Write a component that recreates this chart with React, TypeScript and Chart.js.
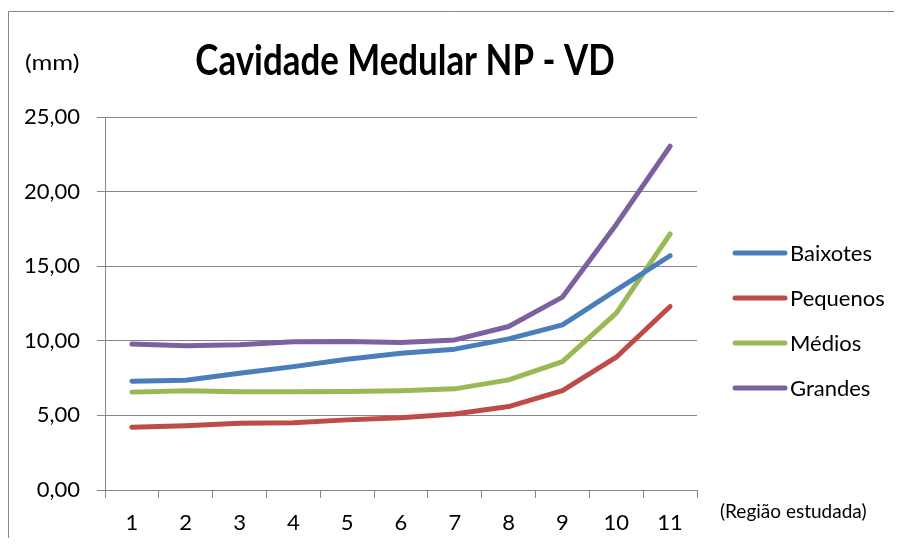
import { useEffect, useRef } from "react";
import { Chart, registerables } from "chart.js";
Chart.register(...registerables);

const categories = ["1", "2", "3", "4", "5", "6", "7", "8", "9", "10", "11"];
const baixotes = [7.29, 7.36, 7.83, 8.27, 8.77, 9.17, 9.44, 10.13, 11.07, 13.4, 15.7];
const pequenos = [4.2, 4.3, 4.47, 4.51, 4.7, 4.85, 5.1, 5.59, 6.66, 8.9, 12.3];
const medios = [6.56, 6.66, 6.58, 6.58, 6.6, 6.66, 6.78, 7.38, 8.61, 11.86, 17.16];
const grandes = [9.78, 9.66, 9.73, 9.93, 9.95, 9.88, 10.06, 10.96, 12.93, 17.8, 23.04];
const seriesNames = ["Baixotes", "Pequenos", "Médios", "Grandes"];
const seriesColors = ["#4A7EBB", "#BE4B48", "#98B954", "#7D60A0"];
const yMin = 0;
const yMax = 25;
const yStep = 5;
const titleText = "Cavidade Medular NP - VD";
const yUnit = "(mm)";
const xUnit = "(Região estudada)";

const FONT = "Lato, Carlito, Calibri, 'Noto Sans', sans-serif";
const GRID = "#868686";

const W = 886;
const H = 530;

const decorPlugin = {
  id: "decor",
  beforeDraw(chart: any) {
    const ctx = chart.ctx;
    ctx.save();
    ctx.strokeStyle = GRID;
    ctx.lineWidth = 1;
    ctx.beginPath();
    ctx.moveTo(0.5, H);
    ctx.lineTo(0.5, 3.5);
    ctx.lineTo(W, 3.5);
    ctx.stroke();
    ctx.restore();
  },
  afterDraw(chart: any) {
    const ctx = chart.ctx;
    ctx.save();
    ctx.fillStyle = "#000";
    ctx.textBaseline = "middle";
    // title (slightly condensed, like the original)
    ctx.save();
    ctx.translate(397, 53);
    ctx.scale(0.83, 1);
    ctx.font = `bold 42px ${FONT}`;
    ctx.textAlign = "center";
    ctx.fillText(titleText, 0, 0);
    ctx.restore();
    // unit labels
    ctx.save();
    ctx.translate(17, 55);
    ctx.scale(1.15, 1);
    ctx.font = `22px ${FONT}`;
    ctx.textAlign = "left";
    ctx.fillText(yUnit, 0, 0);
    ctx.restore();
    ctx.font = `19px ${FONT}`;
    ctx.textAlign = "left";
    ctx.fillText(xUnit, 712, 504);
    // legend
    const datasets = chart.data.datasets;
    ctx.font = `22px ${FONT}`;
    datasets.forEach((ds: any, i: number) => {
      const y = 245 + i * 45;
      ctx.strokeStyle = ds.borderColor;
      ctx.lineWidth = 5;
      ctx.lineCap = "round";
      ctx.beginPath();
      ctx.moveTo(727, y);
      ctx.lineTo(777, y);
      ctx.stroke();
      ctx.fillStyle = "#000";
      ctx.fillText(ds.label, 782, y + 1);
    });
    ctx.restore();
  },
};

export default function App() {
  const ref = useRef<HTMLCanvasElement | null>(null);
  useEffect(() => {
    if (!ref.current) return;
    const values = [baixotes, pequenos, medios, grandes];
    const chart = new Chart(ref.current, {
      type: "line",
      data: {
        labels: categories,
        datasets: values.map((d, i) => ({
          label: seriesNames[i],
          data: d,
          borderColor: seriesColors[i],
          backgroundColor: seriesColors[i],
          borderWidth: 5,
          pointRadius: 0,
          tension: 0,
          borderCapStyle: "round" as const,
          borderJoinStyle: "round" as const,
        })),
      },
      options: {
        animation: false,
        responsive: false,
        devicePixelRatio: 1,
        layout: { padding: { top: 109, right: 197, left: 0, bottom: 0 } },
        plugins: { legend: { display: false }, title: { display: false }, tooltip: { enabled: false } },
        scales: {
          x: {
            type: "category",
            offset: true,
            grid: { display: true, drawOnChartArea: false, drawTicks: true, tickLength: 8, offset: true, color: GRID },
            border: { display: true, color: GRID, width: 1 },
            ticks: { color: "#000", font: { family: FONT, size: 22 }, padding: 12, maxRotation: 0, autoSkip: false },
            afterFit: (s: any) => { s.height = 48; },
          },
          y: {
            min: yMin,
            max: yMax,
            ticks: {
              stepSize: yStep,
              color: "#000",
              font: { family: FONT, size: 22 },
              padding: 17,
              callback: (v: any) => Number(v).toFixed(2).replace(".", ","),
            },
            grid: { color: GRID, lineWidth: 1, tickLength: 8 },
            border: { display: true, color: GRID, width: 1 },
            afterFit: (s: any) => { s.width = 97; },
          },
        },
      },
      plugins: [decorPlugin],
    });
    return () => chart.destroy();
  }, []);
  return (
    <div style={{ width: W, height: H }}>
      <canvas ref={ref} width={W} height={H} style={{ display: "block", width: W, height: H }} />
    </div>
  );
}
